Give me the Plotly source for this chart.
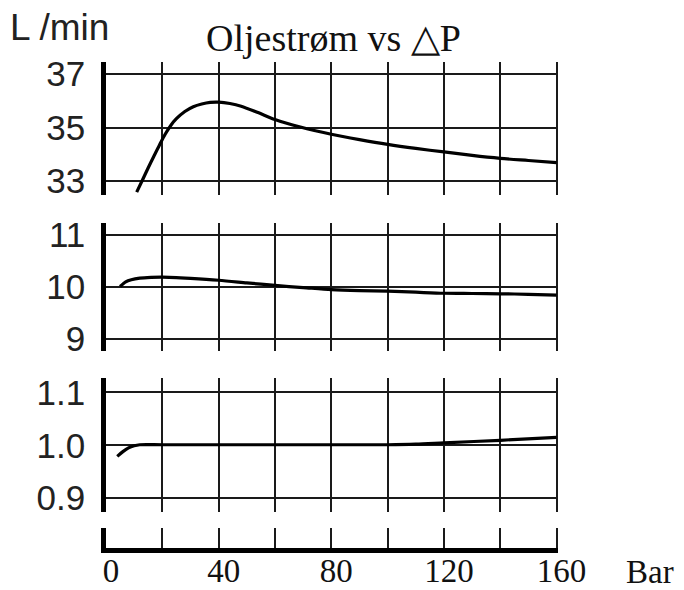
import plotly.graph_objects as go

# ---- data ----
pressure_top = [10.9, 13, 15, 17, 19, 21, 23, 25, 28, 31, 34, 37, 40, 44, 48, 54, 60, 69, 80, 90, 100, 110, 120, 130, 140, 150, 160]
flow_top = [32.59, 33.05, 33.5, 33.93, 34.35, 34.75, 35.08, 35.33, 35.6, 35.78, 35.88, 35.94, 35.95, 35.9, 35.8, 35.56, 35.3, 35.02, 34.75, 34.55, 34.37, 34.22, 34.09, 33.96, 33.85, 33.77, 33.69]

pressure_mid = [5, 7, 9, 12, 16, 20, 30, 40, 50, 60, 70, 80, 90, 100, 110, 120, 130, 140, 150, 160]
flow_mid = [10.01, 10.1, 10.14, 10.17, 10.185, 10.19, 10.165, 10.13, 10.08, 10.03, 9.99, 9.95, 9.93, 9.92, 9.9, 9.88, 9.875, 9.87, 9.86, 9.845]

pressure_bot = [4, 6, 8, 10, 12, 20, 40, 60, 80, 100, 110, 120, 140, 160]
flow_bot = [0.979, 0.988, 0.995, 0.999, 1.001, 1.001, 1.001, 1.001, 1.001, 1.001, 1.002, 1.0045, 1.0094, 1.015]

x_grid = [0, 20, 40, 60, 80, 100, 120, 140, 160]
x_ticktext = ["0", "", "40", "", "80", "", "120", "", "160"]
top_ticks = [33, 35, 37]
mid_ticks = [9, 10, 11]
bot_ticks = [0.9, 1.0, 1.1]
bot_ticktext = ["0.9", "1.0", "1.1"]

GRID = "#1a1a1a"
SANS = "Liberation Sans, Arial, sans-serif"
SERIF = "Liberation Serif, Times New Roman, serif"

fig = go.Figure()
line = dict(color="black", width=3.2, shape="spline", smoothing=0.8)
fig.add_trace(go.Scatter(x=pressure_top, y=flow_top, mode="lines", line=line, xaxis="x2", yaxis="y2", showlegend=False))
fig.add_trace(go.Scatter(x=pressure_mid, y=flow_mid, mode="lines", line=line, xaxis="x3", yaxis="y3", showlegend=False))
fig.add_trace(go.Scatter(x=pressure_bot, y=flow_bot, mode="lines", line=line, xaxis="x4", yaxis="y4", showlegend=False))
# strip subplot carrying the x tick labels
fig.add_trace(go.Scatter(x=[None], y=[None], mode="lines", xaxis="x", yaxis="y", showlegend=False, hoverinfo="skip"))

xcommon = dict(range=[0, 160.5], tickvals=x_grid, showgrid=True, gridcolor=GRID, gridwidth=1.6,
               zeroline=False, ticks="", fixedrange=True, automargin=False)
ycommon = dict(showline=True, linewidth=4.5, linecolor="black", showgrid=True, gridcolor=GRID,
               gridwidth=1.6, zeroline=False, ticks="", ticklabelstandoff=9, automargin=False,
               fixedrange=True, tickfont=dict(family=SANS, size=35, color="#222"))

PLOT_W = 452
PLOT_H = 486
L0, T0 = 106, 62        # plot area top-left in window pixels
B0 = T0 + PLOT_H         # 548


def px_x(wx):
    return (wx - L0) / PLOT_W


def px_y(wy):
    return (B0 - wy) / PLOT_H


fig.update_layout(
    template="none",
    width=684, height=590,
    margin=dict(l=L0 - 8, r=684 - (L0 + PLOT_W) + 8, t=T0 - 8, b=590 - B0 + 8, pad=0),
    paper_bgcolor="white", plot_bgcolor="white",
    xaxis=dict(**xcommon, anchor="y", domain=[0, 1], showline=True, linewidth=4.5, linecolor="black",
               ticktext=x_ticktext, ticklabelshift=5, ticklabelstandoff=-10,
               tickfont=dict(family=SERIF, size=33, color="#111")),
    yaxis=dict(domain=[0, 0.0412], range=[0, 1], showline=True, linewidth=4.5, linecolor="black",
               showgrid=False, zeroline=False, showticklabels=False, ticks="", automargin=False,
               fixedrange=True),
    xaxis2=dict(**xcommon, anchor="y2", matches="x", showticklabels=False),
    yaxis2=dict(**ycommon, domain=[0.7263, 1.0], range=[32.48, 37.45], tickvals=top_ticks),
    xaxis3=dict(**xcommon, anchor="y3", matches="x", showticklabels=False),
    yaxis3=dict(**ycommon, domain=[0.4053, 0.6687], range=[8.77, 11.23], tickvals=mid_ticks),
    xaxis4=dict(**xcommon, anchor="y4", matches="x", showticklabels=False),
    yaxis4=dict(**ycommon, domain=[0.0741, 0.3498], range=[0.874, 1.127], tickvals=bot_ticks,
                ticktext=bot_ticktext),
    annotations=[
        dict(text="L /min", xref="paper", yref="paper", x=px_x(8), y=px_y(28),
             xanchor="left", yanchor="middle", showarrow=False,
             font=dict(family=SANS, size=37, color="#222")),
        dict(text="Oljestrøm vs △P", xref="paper", yref="paper", x=px_x(333), y=px_y(38),
             xanchor="center", yanchor="middle", showarrow=False,
             font=dict(family=SERIF, size=38, color="#111")),
        dict(text="Bar", xref="paper", yref="paper", x=px_x(650), y=px_y(572),
             xanchor="center", yanchor="middle", showarrow=False,
             font=dict(family=SERIF, size=33, color="#111")),
    ],
)

fig.write_html("out.html")
